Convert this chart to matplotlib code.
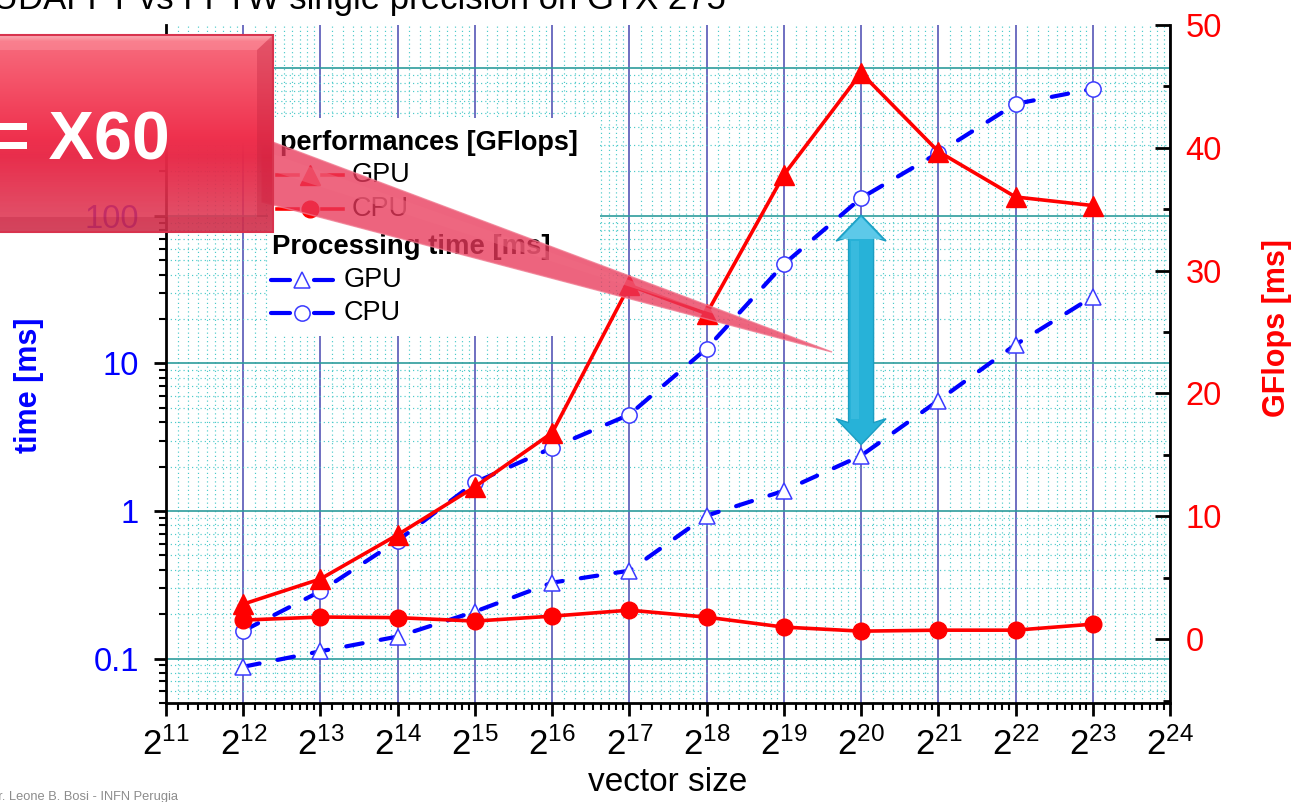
#!/usr/bin/env python3
"""CUDA FFT vs FFTW: processing time and GFlops vs vector size."""

import numpy as np
import matplotlib
matplotlib.use("Agg")
import matplotlib.pyplot as plt
from matplotlib.ticker import FixedLocator, FuncFormatter, LogLocator, MultipleLocator, NullFormatter
from matplotlib.patches import Polygon, Rectangle

plt.rcParams["font.family"] = ["Liberation Sans", "DejaVu Sans"]
plt.rcParams["mathtext.fontset"] = "custom"
plt.rcParams["mathtext.rm"] = "Liberation Sans"
plt.rcParams["mathtext.it"] = "Liberation Sans:italic"
plt.rcParams["mathtext.bf"] = "Liberation Sans:bold"

# ─── Data ────────────────────────────────────────────────────────────────────

exponents = [12, 13, 14, 15, 16, 17, 18, 19, 20, 21, 22, 23]
gpu_time_ms = [0.088, 0.112, 0.141, 0.208, 0.327, 0.394, 0.93, 1.37, 2.37, 5.6, 13.4, 28.3]
cpu_time_ms = [0.154, 0.286, 0.63, 1.56, 2.68, 4.5, 12.6, 47.0, 132.0, 267.0, 573.0, 725.0]
gpu_gflops = [2.85, 4.9, 8.5, 12.4, 16.8, 28.8, 26.5, 37.8, 46.1, 39.7, 36.0, 35.3]
cpu_gflops = [1.55, 1.8, 1.75, 1.47, 1.87, 2.36, 1.79, 0.98, 0.65, 0.73, 0.73, 1.22]
x_tick_exponents = list(range(11, 25))
time_ticks = [0.1, 1, 10, 100, 1000]

BLUE = "#0000FF"
RED = "#FF0000"
W, H = 1297, 802

x = [2.0 ** e for e in exponents]

fig = plt.figure(figsize=(W / 100, H / 100), dpi=100)
fig.patch.set_facecolor("white")

# axes frame in pixels: left 166, right 1170, top 25, bottom 703
ax = fig.add_axes([166 / W, (H - 703) / H, (1170 - 166) / W, (703 - 25) / H])
ax2 = ax.twinx()

# ─── x axis (log2) ───────────────────────────────────────────────────────────
ax.set_xscale("log", base=2)
ax.set_xlim(2.0 ** 11, 2.0 ** 24)
ax.xaxis.set_major_locator(FixedLocator([2.0 ** e for e in x_tick_exponents]))
ax.xaxis.set_major_formatter(FuncFormatter(lambda v, p: r"$2^{%d}$" % round(np.log2(v))))
minor_x = [2.0 ** e * (1 + k / 9) for e in x_tick_exponents[:-1] for k in range(1, 9)]
ax.xaxis.set_minor_locator(FixedLocator(minor_x))
ax.xaxis.set_minor_formatter(NullFormatter())

# ─── left y axis (time, log) ─────────────────────────────────────────────────
ax.set_yscale("log")
ax.set_ylim(0.05, 1963)
ax.yaxis.set_major_locator(FixedLocator(time_ticks))
ax.yaxis.set_major_formatter(FuncFormatter(lambda v, p: f"{v:g}"))
ax.yaxis.set_minor_locator(LogLocator(base=10, subs=np.arange(2, 10)))
ax.yaxis.set_minor_formatter(NullFormatter())

# ─── right y axis (GFlops, linear) ───────────────────────────────────────────
ax2.set_ylim(-5.2, 50)
ax2.yaxis.set_major_locator(MultipleLocator(10))
ax2.yaxis.set_minor_locator(MultipleLocator(5))

# grid
ax.set_axisbelow(True)
ax.grid(which="minor", color="#4CCACA", linestyle=(0, (1, 2.6)), linewidth=0.85)
ax.grid(which="major", axis="x", color="#4848B0", linewidth=1.1, linestyle="-")
ax.grid(which="major", axis="y", color="#2E9C9C", linewidth=1.2, linestyle="-")

# spines / ticks
for s in ["top", "right"]:
    ax.spines[s].set_visible(False)
for s in ["top", "left", "bottom"]:
    ax2.spines[s].set_visible(False)
for s in ["left", "bottom"]:
    ax.spines[s].set_linewidth(2)
ax2.spines["right"].set_linewidth(2)

ax.tick_params(axis="x", which="major", direction="out", length=9.5, width=2,
               labelsize=25, pad=8, top=False)
ax.tick_params(axis="x", which="minor", direction="out", length=5, width=1.5, top=False)
ax.tick_params(axis="y", which="major", direction="out", length=8.5, width=2,
               labelsize=23.5, labelcolor=BLUE, pad=11)
ax.tick_params(axis="y", which="minor", direction="out", length=5, width=1.5)
ax2.tick_params(axis="y", which="major", direction="in", length=10.5, width=2,
                labelsize=23.5, labelcolor=RED, pad=11)
ax2.tick_params(axis="y", which="minor", direction="in", length=5, width=2)

# labels
ax.set_xlabel("vector size", fontsize=24)
ax.xaxis.set_label_coords(0.5, -0.094)
ax.set_ylabel("time [ms]", fontsize=22, fontweight="bold", color=BLUE)
ax.yaxis.set_label_coords(-0.1215, 0.469)
ax2.set_ylabel("GFlops [ms]", fontsize=22, fontweight="bold", color=RED,
               rotation=90)
ax2.yaxis.set_label_coords(1.0916, 0.553)

# ─── series ──────────────────────────────────────────────────────────────────
ax.plot(x, gpu_time_ms, color=BLUE, linewidth=3, dashes=(4.0, 4.4),
        dash_capstyle="round", marker="^", markersize=12, markerfacecolor="white",
        markeredgecolor="#3A3AFF", markeredgewidth=1.1, zorder=3)
ax.plot(x, cpu_time_ms, color=BLUE, linewidth=3, dashes=(4.0, 4.4),
        dash_capstyle="round", marker="o", markersize=11, markerfacecolor="white",
        markeredgecolor="#3A3AFF", markeredgewidth=1.1, zorder=3)
ax2.plot(x, gpu_gflops, color=RED, linewidth=2.6, marker="^", markersize=14,
         markerfacecolor=RED, markeredgecolor=RED, zorder=3)
ax2.plot(x, cpu_gflops, color=RED, linewidth=2.6, marker="o", markersize=12,
         markerfacecolor=RED, markeredgecolor=RED, zorder=3)

# ─── overlay in figure pixels ────────────────────────────────────────────────
ov = fig.add_axes([0, 0, 1, 1], zorder=10)
ov.set_xlim(0, W)
ov.set_ylim(H, 0)
ov.axis("off")
ov.patch.set_alpha(0)

ov.text(726, 9, "CUDAFFT vs FFTW single precision on GTX 275", fontsize=25,
        ha="right", va="baseline")
ov.text(178, 797, "Dr. Leone B. Bosi - INFN Perugia", fontsize=9.3,
        color="#8C8C8C", ha="right", va="center")

# legend
ov.add_patch(Rectangle((268, 118), 332, 218, facecolor="white", edgecolor="none", zorder=1))
ov.text(280, 143, "performances [GFlops]", fontsize=19.5, fontweight="bold",
        va="center", zorder=2)
ov.text(272, 247, "Processing time [ms]", fontsize=19.8, fontweight="bold",
        va="center", zorder=2)
for yy, mk, ms in [(175, "^", 14), (209, "o", 12)]:
    ov.plot([277, 298], [yy, yy], color=RED, lw=2.6, zorder=2)
    ov.plot([322, 343], [yy, yy], color=RED, lw=2.6, zorder=2)
    ov.plot([310], [yy], marker=mk, ms=ms, color=RED, zorder=2)
    ov.text(352, yy, "GPU" if mk == "^" else "CPU", fontsize=19.5, va="center", zorder=2)
for yy, mk, ms in [(280, "^", 12), (313, "o", 11)]:
    ov.plot([271, 290], [yy, yy], color=BLUE, lw=3, solid_capstyle="round", zorder=2)
    ov.plot([314, 333], [yy, yy], color=BLUE, lw=3, solid_capstyle="round", zorder=2)
    ov.plot([302], [yy], marker=mk, ms=ms, mfc="white", mec="#3A3AFF", mew=1.1, zorder=2)
    ov.text(344, yy, "GPU" if mk == "^" else "CPU", fontsize=19.5, va="center", zorder=2)

# cyan double arrow between CPU and GPU time at 2^20
fig.canvas.draw()
i20 = exponents.index(20)
xc, y_cpu = ax.transData.transform((x[i20], cpu_time_ms[i20]))
_, y_gpu = ax.transData.transform((x[i20], gpu_time_ms[i20]))
yt, yb = H - y_cpu + 17, H - y_gpu - 11
hw, sw, hl = 25, 12.5, 26
arrow = [(xc, yt), (xc + hw, yt + hl), (xc + sw, yt + hl - 4), (xc + sw, yb - hl + 4),
         (xc + hw, yb - hl), (xc, yb), (xc - hw, yb - hl), (xc - sw, yb - hl + 4),
         (xc - sw, yt + hl - 4), (xc - hw, yt + hl)]
ov.add_patch(Polygon(arrow, closed=True, facecolor="#27B2D8", edgecolor="#1B9DC2",
                     linewidth=1, zorder=3))
ov.add_patch(Polygon([(xc, yt + 2), (xc + hw - 4, yt + hl - 2), (xc - hw + 4, yt + hl - 2)],
                     closed=True, facecolor="#6BD0EE", edgecolor="none", alpha=0.8, zorder=3))
ov.add_patch(Rectangle((xc - sw + 2, yt + hl), 8, yb - yt - 2 * hl,
                       facecolor="#45C0E3", edgecolor="none", alpha=0.6, zorder=3))

# callout pointer and red box
ov.add_patch(Polygon([(262, 138), (832, 352), (262, 202)], closed=True,
                     facecolor="#E8385A", edgecolor="#F07A90", linewidth=1,
                     alpha=0.78, zorder=4))
ov.add_patch(Polygon([(262, 150), (832, 352), (262, 168)], closed=True,
                     facecolor="#F06A82", edgecolor="none", alpha=0.5, zorder=4))

t = np.linspace(0, 1, 200)
r = np.interp(t, [0, 0.03, 0.5, 0.62, 1], [0.98, 0.97, 0.94, 0.91, 0.86])
g = np.interp(t, [0, 0.03, 0.5, 0.62, 1], [0.66, 0.42, 0.20, 0.16, 0.22])
b = np.interp(t, [0, 0.03, 0.5, 0.62, 1], [0.70, 0.49, 0.31, 0.28, 0.33])
a = np.interp(t, [0, 0.55, 1], [1.0, 1.0, 0.85])
grad = np.stack([r, g, b, a], axis=1)[:, None, :]
ov.imshow(grad, extent=(-5, 273, 232, 35), origin="upper", aspect="auto",
          interpolation="bilinear", zorder=5)
ov.add_patch(Polygon([(257, 50), (273, 35), (273, 232), (257, 217)], closed=True,
                     facecolor="#B81E3A", edgecolor="none", alpha=0.3, zorder=5))
ov.add_patch(Polygon([(-5, 217), (257, 217), (273, 232), (-5, 232)], closed=True,
                     facecolor="#B81E3A", edgecolor="none", alpha=0.3, zorder=5))
ov.add_patch(Polygon([(-5, 35), (273, 35), (257, 50), (-5, 50)], closed=True,
                     facecolor="#FFB0B8", edgecolor="none", alpha=0.3, zorder=5))
ov.add_patch(Rectangle((-5, 35), 278, 197, facecolor="none", edgecolor="#D8334E",
                       linewidth=1.5, zorder=5))
ov.set_xlim(0, W)
ov.set_ylim(H, 0)
ov.text(170, 160, "= X60", color="white", fontsize=49, fontweight="bold",
        ha="right", va="baseline", zorder=6)

fig.savefig("out.png", dpi=100)
